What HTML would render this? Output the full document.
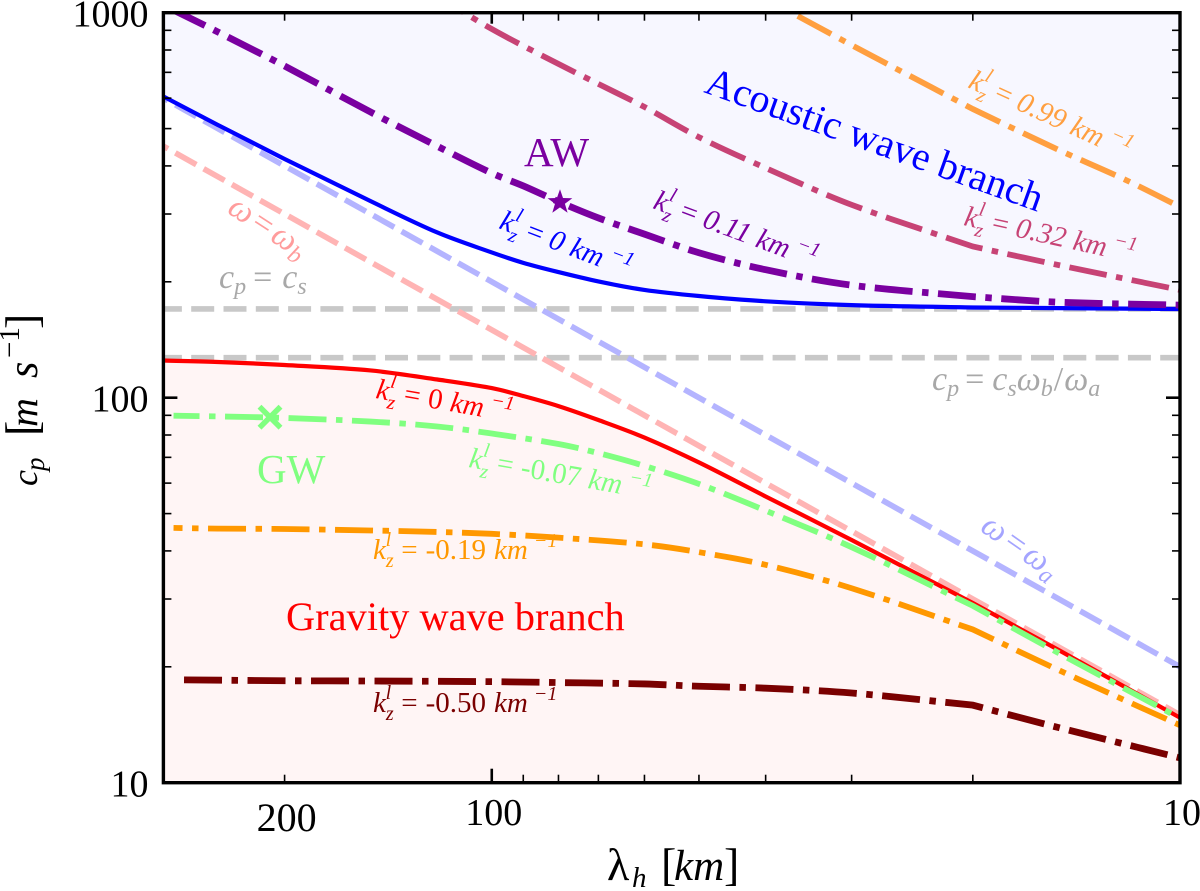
<!DOCTYPE html>
<html lang="en">
<head>
<meta charset="utf-8">
<title>Phase speed vs horizontal wavelength</title>
<style>
html,body{margin:0;padding:0;background:#fff;}
svg{display:block;font-family:"Liberation Serif",serif;}
</style>
</head>
<body>
<svg id="chart" xmlns="http://www.w3.org/2000/svg" width="1200" height="891" viewBox="0 0 1200 891">
  <defs>
    <clipPath id="plot-clip"><rect x="163.4" y="12.7" width="1016.6" height="770"/></clipPath>
  </defs>
  <g id="fills" clip-path="url(#plot-clip)"></g>
  <g id="guides" clip-path="url(#plot-clip)"></g>
  <g id="series" clip-path="url(#plot-clip)"></g>
  <g id="axes"></g>

  <text transform="translate(37,486) rotate(-90)" fill="#000" font-style="italic"><tspan x="0" y="0" font-size="36">c</tspan><tspan x="15" y="7" font-size="27">p</tspan><tspan x="50" y="0" font-size="46" font-style="normal">[</tspan><tspan x="59" y="0" font-size="40">m</tspan><tspan x="108" y="0" font-size="42">s</tspan><tspan x="128" y="-18" font-size="29" font-style="normal">−1</tspan><tspan x="157" y="0" font-size="46" font-style="normal">]</tspan></text>
  <text transform="translate(0,880)" fill="#000"><tspan x="607" y="0" font-size="46">λ</tspan><tspan x="632" y="7" font-size="29" font-style="italic">h</tspan><tspan x="661" y="0" font-size="46">[</tspan><tspan x="674" y="0" font-size="43" font-style="italic">km</tspan><tspan x="724" y="0" font-size="46">]</tspan></text>

  <text transform="translate(703,92) rotate(19.7)" font-size="40" fill="#0000ff">Acoustic wave branch</text>
  <text x="286" y="630" font-size="40.4" fill="#ff0000">Gravity wave branch</text>
  <text x="524" y="166" font-size="41" fill="#7a00a0">AW</text>
  <text x="257" y="483" font-size="41" fill="#80ff80">GW</text>

  <text transform="translate(967,87) rotate(24.5)" font-size="29" font-style="italic" fill="#ff9f40">k<tspan dy="8" font-size="20">z</tspan><tspan dy="-21" dx="-8" font-size="20">l</tspan><tspan dy="13" dx="10" font-style="normal">=</tspan><tspan dx="8">0.99</tspan><tspan dx="8">km</tspan><tspan dy="-12" dx="6" font-size="20">−1</tspan></text>
  <text transform="translate(963,225) rotate(12.5)" font-size="29" font-style="italic" fill="#c74375">k<tspan dy="8" font-size="20">z</tspan><tspan dy="-21" dx="-8" font-size="20">l</tspan><tspan dy="13" dx="10" font-style="normal">=</tspan><tspan dx="8">0.32</tspan><tspan dx="8">km</tspan><tspan dy="-12" dx="6" font-size="20">−1</tspan></text>
  <text transform="translate(652,208) rotate(20.5)" font-size="29" font-style="italic" fill="#7a00a0">k<tspan dy="8" font-size="20">z</tspan><tspan dy="-21" dx="-8" font-size="20">l</tspan><tspan dy="13" dx="10" font-style="normal">=</tspan><tspan dx="8">0.11</tspan><tspan dx="8">km</tspan><tspan dy="-12" dx="6" font-size="20">−1</tspan></text>
  <text transform="translate(498,228) rotate(21)" font-size="29" font-style="italic" fill="#0000ff">k<tspan dy="8" font-size="20">z</tspan><tspan dy="-21" dx="-8" font-size="20">l</tspan><tspan dy="13" dx="10" font-style="normal">=</tspan><tspan dx="8">0</tspan><tspan dx="8">km</tspan><tspan dy="-12" dx="6" font-size="20">−1</tspan></text>
  <text transform="translate(375,398) rotate(10)" font-size="29" font-style="italic" fill="#ff0000">k<tspan dy="8" font-size="20">z</tspan><tspan dy="-21" dx="-8" font-size="20">l</tspan><tspan dy="13" dx="10" font-style="normal">=</tspan><tspan dx="8" font-style="normal">0</tspan><tspan dx="8">km</tspan><tspan dy="-12" dx="6" font-size="20">−1</tspan></text>
  <text transform="translate(468,467) rotate(10)" font-size="29" font-style="italic" fill="#80ff80">k<tspan dy="8" font-size="20">z</tspan><tspan dy="-21" dx="-8" font-size="20">l</tspan><tspan dy="13" dx="10" font-style="normal">=</tspan><tspan dx="8" font-style="normal">-0.07</tspan><tspan dx="8">km</tspan><tspan dy="-12" dx="6" font-size="20">−1</tspan></text>
  <text x="373" y="559" font-size="29" font-style="italic" fill="#ff9800">k<tspan dy="8" font-size="20">z</tspan><tspan dy="-21" dx="-8" font-size="20">l</tspan><tspan dy="13" dx="10" font-style="normal">=</tspan><tspan dx="8" font-style="normal">-0.19</tspan><tspan dx="8">km</tspan><tspan dy="-12" dx="6" font-size="20">−1</tspan></text>
  <text x="373" y="712" font-size="29" font-style="italic" fill="#7a0000">k<tspan dy="8" font-size="20">z</tspan><tspan dy="-21" dx="-8" font-size="20">l</tspan><tspan dy="13" dx="10" font-style="normal">=</tspan><tspan dx="8" font-style="normal">-0.50</tspan><tspan dx="8">km</tspan><tspan dy="-12" dx="6" font-size="20">−1</tspan></text>

  <text transform="translate(226,212) rotate(33)" font-size="34" font-style="italic" fill="#ff9c9c">ω<tspan font-style="normal" dx="4">=</tspan><tspan dx="4">ω</tspan><tspan dy="6" font-size="24">b</tspan></text>
  <text transform="translate(979,530) rotate(35)" font-size="34" font-style="italic" fill="#a4a4ff">ω<tspan font-style="normal" dx="4">=</tspan><tspan dx="4">ω</tspan><tspan dy="6" font-size="24">a</tspan></text>
  <text x="219" y="288" font-size="34" font-style="italic" fill="#a8a8a8">c<tspan dy="6" font-size="24">p</tspan><tspan dy="-6" font-style="normal" dx="7">=</tspan><tspan dx="10">c</tspan><tspan dy="6" font-size="24">s</tspan></text>
  <text x="932" y="390" font-size="34" font-style="italic" fill="#a8a8a8">c<tspan dy="6" font-size="24">p</tspan><tspan dy="-6" font-style="normal" dx="6">=</tspan><tspan dx="8">c</tspan><tspan dy="6" font-size="24">s</tspan><tspan dy="-6">ω</tspan><tspan dy="6" font-size="24">b</tspan><tspan dy="-6" font-style="normal" dx="1">/</tspan><tspan dx="1">ω</tspan><tspan dy="6" font-size="24">a</tspan></text>
</svg>

<script>
// ---- Chart data ----
const xTickMajor = [100, 10];
const xTickMinor = [200, 90, 80, 70, 60, 50, 40, 30, 20];
const xTickLabels = [200, 100, 10];
const yTickMajor = [10, 100, 1000];
const yTickMinor = [20, 30, 40, 50, 60, 70, 80, 90, 200, 300, 400, 500, 600, 700, 800, 900];
const yTickLabels = [10, 100, 1000];

const soundSpeedCp = 170;
const cutoffCp = 127;

const omegaALambda = [300, 10];
const omegaACp = [600, 20];
const omegaBLambda = [300, 10];
const omegaBCp = [450, 15];

const acousticZeroLambda = [300, 250, 200, 150, 120, 100, 90, 80, 70, 60, 50, 40, 30, 20, 10];
const acousticZeroCp = [606, 511, 417, 324, 268.6, 238.4, 224, 212, 200.5, 190.5, 183.7, 178, 174, 171.5, 170];

const k011Lambda = [300, 250, 200, 150, 120, 100, 90, 80, 70, 60, 50, 40, 30, 20, 15, 10];
const k011Cp = [1047, 891, 727, 552, 450, 383, 355, 323, 293, 266, 238, 215, 196, 183, 177, 174];

const k032Lambda = [120, 100, 80, 70, 60, 50, 40, 30, 20, 15, 10];
const k032Cp = [1105, 907, 736, 653, 569, 475, 395, 317, 247, 221, 190.5];

const k099Lambda = [40, 30, 20, 15, 12, 10];
const k099Cp = [1088, 824, 562, 440, 368, 313];

const gravityZeroLambda = [300, 250, 200, 150, 120, 100, 90, 80, 70, 60, 50, 40, 30, 20, 15, 10];
const gravityZeroCp = [124.9, 123.8, 121.6, 117.7, 111.5, 105.9, 101, 95.1, 87.5, 78.8, 67.9, 55.4, 42.7, 29.3, 22.1, 14.75];

const k007Lambda = [290, 250, 200, 150, 120, 100, 80, 70, 60, 50, 40, 30, 20, 15, 10];
const k007Cp = [89.8, 89.4, 88.6, 86.7, 84.2, 80.7, 75.8, 71.8, 66.5, 59.7, 50.9, 40.9, 28.8, 21.7, 14.7];

const k019Lambda = [290, 250, 200, 150, 120, 100, 80, 60, 50, 40, 30, 20, 15, 10];
const k019Cp = [45.9, 45.7, 45.6, 45.2, 44.8, 44.3, 43.3, 41.6, 39.7, 36.8, 32.0, 25, 19.6, 14.1];

const k050Lambda = [280, 200, 150, 100, 80, 60, 50, 40, 30, 20, 15, 10];
const k050Cp = [18.5, 18.4, 18.37, 18.3, 18.2, 18.05, 17.8, 17.6, 17.1, 15.9, 13.9, 11.6];

const starLambda = [79.6];
const starCp = [322];
const crossLambda = [210];
const crossCp = [89];

// ---- Axis functions ----
const PLOT = { left: 163.4, right: 1180, top: 12.7, bottom: 782.7 };
const xDomain = [300, 10];
const yDomain = [10, 1000];
function xScale(v) {
  const t = (Math.log10(v) - Math.log10(xDomain[0])) / (Math.log10(xDomain[1]) - Math.log10(xDomain[0]));
  return PLOT.left + t * (PLOT.right - PLOT.left);
}
function yScale(v) {
  const t = (Math.log10(v) - Math.log10(yDomain[0])) / (Math.log10(yDomain[1]) - Math.log10(yDomain[0]));
  return PLOT.bottom - t * (PLOT.bottom - PLOT.top);
}

const NS = 'http://www.w3.org/2000/svg';
function make(tag, attrs, parent) {
  const el = document.createElementNS(NS, tag);
  for (const k in attrs) el.setAttribute(k, attrs[k]);
  parent.appendChild(el);
  return el;
}
// Smooth Hermite path through the data points; the curves have a corner at the lambda = 20 grid point.
function pathOf(lams, cps) {
  const pts = lams.map((l, i) => [xScale(l), yScale(cps[i])]);
  const kink = lams.indexOf(20);
  function chord(i, j) {
    return (pts[j][1] - pts[i][1]) / (pts[j][0] - pts[i][0]);
  }
  function slopeLeft(i) {
    if (i === kink || i === pts.length - 1) return chord(i - 1, i);
    return chord(i - 1, i + 1);
  }
  function slopeRight(i) {
    if (i === kink || i === 0) return chord(i, i + 1);
    return chord(i - 1, i + 1);
  }
  let d = 'M' + pts[0][0].toFixed(2) + ' ' + pts[0][1].toFixed(2);
  for (let i = 0; i < pts.length - 1; i++) {
    const p = pts[i], q = pts[i + 1];
    const h = (q[0] - p[0]) / 3;
    d += ' C' + (p[0] + h).toFixed(2) + ' ' + (p[1] + slopeRight(i) * h).toFixed(2) + ' ' +
         (q[0] - h).toFixed(2) + ' ' + (q[1] - slopeLeft(i + 1) * h).toFixed(2) + ' ' +
         q[0].toFixed(2) + ' ' + q[1].toFixed(2);
  }
  return d;
}

const fills = document.getElementById('fills');
const guides = document.getElementById('guides');
const series = document.getElementById('series');
const axes = document.getElementById('axes');

// ---- Branch fills ----
const acousticFill = make('path', {
  d: pathOf(acousticZeroLambda, acousticZeroCp) + ' L' + PLOT.right + ' ' + PLOT.top + ' L' + PLOT.left + ' ' + PLOT.top + ' Z',
  fill: '#f7f7ff'
}, fills);



const gravityFill = make('path', {
  d: pathOf(gravityZeroLambda, gravityZeroCp) + ' L' + PLOT.right + ' ' + PLOT.bottom + ' L' + PLOT.left + ' ' + PLOT.bottom + ' Z',
  fill: '#fff5f5'
}, fills);



// ---- Guide lines ----
const csLine = make('line', {
  x1: PLOT.left, x2: PLOT.right, y1: yScale(soundSpeedCp), y2: yScale(soundSpeedCp),
  stroke: '#c8c8c8', 'stroke-width': 5.6, 'stroke-dasharray': '23 9.3', 'stroke-dashoffset': 4.5
}, guides);



const cutoffLine = make('line', {
  x1: PLOT.left, x2: PLOT.right, y1: yScale(cutoffCp), y2: yScale(cutoffCp),
  stroke: '#c8c8c8', 'stroke-width': 5.6, 'stroke-dasharray': '23 9.3', 'stroke-dashoffset': 4.5
}, guides);



const omegaALine = make('path', {
  d: pathOf(omegaALambda, omegaACp), fill: 'none',
  stroke: '#b4b4ff', 'stroke-width': 5.7, 'stroke-dasharray': '24 8.4', 'stroke-dashoffset': 18.7
}, guides);



const omegaBLine = make('path', {
  d: pathOf(omegaBLambda, omegaBCp), fill: 'none',
  stroke: '#ffb4b4', 'stroke-width': 5.7, 'stroke-dasharray': '24 8.4', 'stroke-dashoffset': 18.7
}, guides);



// ---- Curves ----
const DASHDOT = '38 9.5 6.5 9.5';

const curveK099 = make('path', { d: pathOf(k099Lambda, k099Cp), fill: 'none', stroke: '#ff9f40', 'stroke-width': 5.8, 'stroke-dasharray': DASHDOT, 'stroke-dashoffset': 27 }, series);



const curveK032 = make('path', { d: pathOf(k032Lambda, k032Cp), fill: 'none', stroke: '#c74375', 'stroke-width': 5.8, 'stroke-dasharray': DASHDOT, 'stroke-dashoffset': 7 }, series);



const curveAcoustic = make('path', { d: pathOf(acousticZeroLambda, acousticZeroCp), fill: 'none', stroke: '#0000ff', 'stroke-width': 4.2 }, series);



const curveK011 = make('path', { d: pathOf(k011Lambda, k011Cp), fill: 'none', stroke: '#7a00a0', 'stroke-width': 6.8, 'stroke-dasharray': DASHDOT, 'stroke-dashoffset': 55 }, series);



const curveK050 = make('path', { d: pathOf(k050Lambda, k050Cp), fill: 'none', stroke: '#7a0000', 'stroke-width': 6.8, 'stroke-dasharray': DASHDOT }, series);



const curveK019 = make('path', { d: pathOf(k019Lambda, k019Cp), fill: 'none', stroke: '#ff9800', 'stroke-width': 5.8, 'stroke-dasharray': DASHDOT, 'stroke-dashoffset': 29 }, series);



const curveGravity = make('path', { d: pathOf(gravityZeroLambda, gravityZeroCp), fill: 'none', stroke: '#ff0000', 'stroke-width': 4.2 }, series);



const curveK007 = make('path', { d: pathOf(k007Lambda, k007Cp), fill: 'none', stroke: '#80ff80', 'stroke-width': 5.8, 'stroke-dasharray': DASHDOT, 'stroke-dashoffset': 12 }, series);



// ---- Markers ----
starLambda.forEach((l, i) => {
  const cx = xScale(l), cy = yScale(starCp[i]);
  const pts = [];
  for (let n = 0; n < 10; n++) {
    const r = n % 2 ? 5.2 : 13;
    const a = -Math.PI / 2 + n * Math.PI / 5;
    pts.push((cx + r * Math.cos(a)).toFixed(1) + ',' + (cy + r * Math.sin(a)).toFixed(1));
  }
  const star = make('polygon', { points: pts.join(' '), fill: '#7a00a0' }, series);
  
  
});
crossLambda.forEach((l, i) => {
  const cx = xScale(l), cy = yScale(crossCp[i]), s = 10.5;
  const cross = make('path', {
    d: 'M' + (cx - s) + ' ' + (cy - s) + ' L' + (cx + s) + ' ' + (cy + s) + ' M' + (cx - s) + ' ' + (cy + s) + ' L' + (cx + s) + ' ' + (cy - s),
    fill: 'none', stroke: '#80ff80', 'stroke-width': 5.5
  }, series);
  
  
});

// ---- Axes ----
function tick(x1, y1, x2, y2, w, name) {
  const t = make('line', { x1: x1, y1: y1, x2: x2, y2: y2, stroke: '#000', 'stroke-width': w }, axes);
  
  
}
xTickMajor.forEach(v => {
  tick(xScale(v), PLOT.bottom, xScale(v), PLOT.bottom - 14, 2.6, 'x-major-tick-bottom');
  tick(xScale(v), PLOT.top, xScale(v), PLOT.top + 11, 2.6, 'x-major-tick-top');
});
xTickMinor.forEach(v => {
  tick(xScale(v), PLOT.bottom, xScale(v), PLOT.bottom - 8, 1.6, 'x-minor-tick-bottom');
  tick(xScale(v), PLOT.top, xScale(v), PLOT.top + 8, 1.6, 'x-minor-tick-top');
});
yTickMajor.forEach(v => {
  tick(PLOT.left, yScale(v), PLOT.left + 14, yScale(v), 2.6, 'y-major-tick-left');
  tick(PLOT.right, yScale(v), PLOT.right - 14, yScale(v), 2.6, 'y-major-tick-right');
});
yTickMinor.forEach(v => {
  tick(PLOT.left, yScale(v), PLOT.left + 8, yScale(v), 1.6, 'y-minor-tick-left');
  tick(PLOT.right, yScale(v), PLOT.right - 8, yScale(v), 1.6, 'y-minor-tick-right');
});

const frame = make('rect', {
  x: PLOT.left, y: PLOT.top, width: PLOT.right - PLOT.left, height: PLOT.bottom - PLOT.top,
  fill: 'none', stroke: '#000', 'stroke-width': 3.4
}, axes);



xTickLabels.forEach(v => {
  const lbl = make('text', {
    x: xScale(v) + 2, y: v === 200 ? 831 : 825, 'text-anchor': 'middle',
    'font-size': v === 200 ? 40 : 38, fill: '#000'
  }, axes);
  lbl.textContent = String(v);
  
  
});
yTickLabels.forEach(v => {
  const lbl = make('text', {
    x: 148.5, y: yScale(v) + 14, 'text-anchor': 'end', 'font-size': 38, fill: '#000'
  }, axes);
  lbl.textContent = String(v);
  
  
});
</script>
</body>
</html>
